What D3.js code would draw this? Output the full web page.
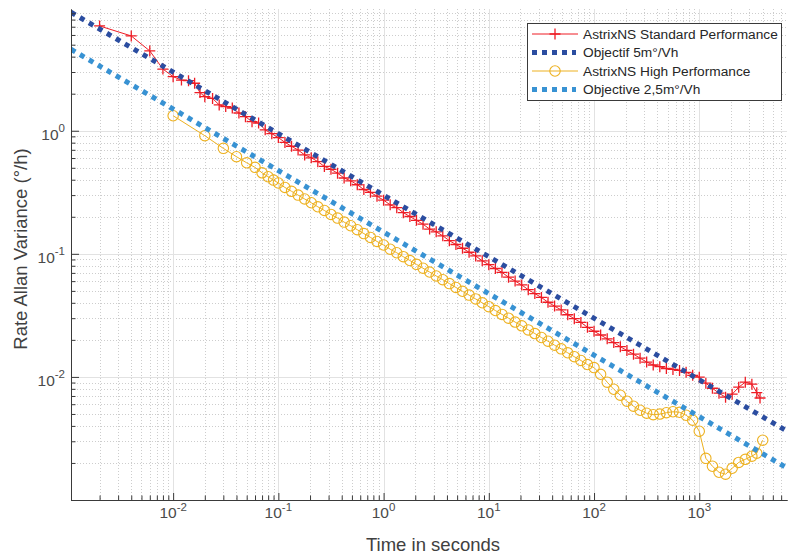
<!DOCTYPE html>
<html>
<head>
<meta charset="utf-8">
<script src="https://cdn.jsdelivr.net/npm/d3@7"></script>
<style>
body { margin: 0; background: #fff; }
text { font-family: "Liberation Sans", Arial, sans-serif; }
</style>
</head>
<body>
<script>
const svgWidth = 788;
const svgHeight = 556;
const plotLeft = 71, plotRight = 787, plotTop = 9, plotBottom = 500;

// axis limits (seconds, deg/h)
const xDomain = [0.00107, 6820];
const yDomain = [0.001, 9.75];
const xTickExp = [-2, -1, 0, 1, 2, 3];
const yTickExp = [-2, -1, 0];

const seriesNames = ['AstrixNS Standard Performance', 'Objectif 5m°/Vh',
                     'AstrixNS High Performance', 'Objective 2,5m°/Vh'];

// AstrixNS Standard Performance
const stdTau = [0.002, 0.004, 0.006, 0.008, 0.010, 0.012, 0.014, 0.016, 0.018, 0.020,
  0.0237, 0.0274, 0.0316, 0.0365, 0.0422, 0.0487, 0.0562, 0.0649, 0.0750, 0.0866,
  0.100, 0.1155, 0.1334, 0.154, 0.1778, 0.2054, 0.2371, 0.2738, 0.3162, 0.3652, 0.4217, 0.487, 0.5623, 0.6494, 0.7499, 0.866,
  1, 1.155, 1.334, 1.54, 1.778, 2.054, 2.371, 2.738, 3.162, 3.652, 4.217, 4.87, 5.623, 6.494, 7.499, 8.66,
  10, 11.55, 13.34, 15.4, 17.78, 20.54, 23.71, 27.38, 31.62, 36.52, 42.17, 48.7, 56.23, 64.94, 74.99, 86.6,
  100, 115.5, 133.4, 154, 177.8, 205.4, 237.1, 273.8, 316.2, 365.2, 421.7, 487, 562.3, 649.4, 749.9, 866,
  1000, 1155, 1334, 1540, 1778, 2054, 2371, 2738, 3162, 3520, 3780];
const stdRate = [7.1, 5.89, 4.45, 3.17, 2.75, 2.58, 2.55, 2.43, 2.04, 1.89,
  1.83, 1.62, 1.57, 1.53, 1.393, 1.30, 1.184, 1.155, 1.017, 0.946,
  0.880, 0.804, 0.748, 0.697, 0.636, 0.603, 0.561, 0.513, 0.486, 0.452, 0.413, 0.392, 0.364, 0.333, 0.316, 0.294,
  0.273, 0.250, 0.237, 0.216, 0.201, 0.187, 0.174, 0.159, 0.151, 0.140, 0.128, 0.119, 0.111, 0.103, 0.0961, 0.0877,
  0.0817, 0.0760, 0.0707, 0.0646, 0.0601, 0.0559, 0.0511, 0.0475, 0.0442, 0.0404, 0.0376, 0.0350, 0.0320, 0.0297, 0.0277, 0.0253,
  0.0235, 0.0219, 0.0204, 0.0190, 0.0176, 0.0164, 0.0153, 0.0142, 0.0132, 0.0125, 0.0121, 0.0117, 0.0115, 0.0113, 0.0109, 0.0103,
  0.00995, 0.00889, 0.00809, 0.00737, 0.00684, 0.00724, 0.00825, 0.00906, 0.00873, 0.00745, 0.00674];

// AstrixNS High Performance
const highTau = [0.01, 0.02, 0.03, 0.04, 0.05, 0.06, 0.07, 0.08, 0.09, 0.10,
  0.1155, 0.1334, 0.154, 0.1778, 0.2054, 0.2371, 0.2738, 0.3162, 0.3652, 0.4217, 0.487, 0.5623, 0.6494, 0.7499, 0.866,
  1, 1.155, 1.334, 1.54, 1.778, 2.054, 2.371, 2.738, 3.162, 3.652, 4.217, 4.87, 5.623, 6.494, 7.499, 8.66,
  10, 11.55, 13.34, 15.4, 17.78, 20.54, 23.71, 27.38, 31.62, 36.52, 42.17, 48.7, 56.23, 64.94, 74.99, 86.6,
  100, 115.5, 133.4, 154, 177.8, 205.4, 237.1, 273.8, 316.2, 365.2, 421.7, 487, 562.3, 649.4, 749.9, 866,
  1000, 1155, 1334, 1540, 1778, 2054, 2371, 2738, 3162, 3520, 4010];
const highRate = [1.324, 0.911, 0.719, 0.615, 0.549, 0.504, 0.455, 0.423, 0.397, 0.376,
  0.346, 0.322, 0.300, 0.279, 0.260, 0.241, 0.225, 0.209, 0.195, 0.181, 0.169, 0.157, 0.146, 0.136, 0.126,
  0.118, 0.109, 0.102, 0.0948, 0.0882, 0.0821, 0.0764, 0.0711, 0.0661, 0.0616, 0.0573, 0.0533, 0.0496, 0.0462, 0.0430, 0.0400,
  0.0372, 0.0346, 0.0322, 0.0300, 0.0279, 0.0260, 0.0241, 0.0225, 0.0209, 0.0195, 0.0181, 0.0169, 0.0157, 0.0146, 0.0136, 0.0126,
  0.0119, 0.0105, 0.00906, 0.00794, 0.00710, 0.00634, 0.00578, 0.00536, 0.00507, 0.00493, 0.00499, 0.00512, 0.00521, 0.00516, 0.00488, 0.00445,
  0.00362, 0.00218, 0.00188, 0.00168, 0.00162, 0.00181, 0.00202, 0.00214, 0.00227, 0.00240, 0.00306];

// objective lines (end points)
const objTau = [0.00107, 6820];
const obj5 = [9.17, 0.00363];
const obj25 = [4.59, 0.00182];

const colors = ['#ee1c25', '#2b4da0', '#edb120', '#3892d3'];

const x = d3.scaleLog().domain(xDomain).range([plotLeft, plotRight]);
const y = d3.scaleLog().domain(yDomain).range([plotBottom, plotTop]);

function isDecade(v) {
    const l = Math.log10(v);
    return Math.abs(l - Math.round(l)) < 1e-6;
}

// 画布
function constructSvg() {
    return d3.select('body')
        .append('svg')
        .attr('width', svgWidth)
        .attr('height', svgHeight);
}

// 网格
function drawGrid(svg) {
    const g = svg.append('g');
    const xt = x.ticks(), yt = y.ticks();
    const px = v => Math.round(x(v)) + 0.5;
    const py = v => Math.round(y(v)) + 0.5;

    g.selectAll('.xminor').data(xt.filter(v => !isDecade(v))).enter()
        .append('line')
        .attr('x1', px).attr('x2', px)
        .attr('y1', plotTop).attr('y2', plotBottom)
        .attr('stroke', '#cdcdcd').attr('stroke-dasharray', '1,2');
    g.selectAll('.yminor').data(yt.filter(v => !isDecade(v))).enter()
        .append('line')
        .attr('y1', py).attr('y2', py)
        .attr('x1', plotLeft).attr('x2', plotRight)
        .attr('stroke', '#cdcdcd').attr('stroke-dasharray', '1,2');
    g.selectAll('.xmajor').data(xt.filter(isDecade)).enter()
        .append('line')
        .attr('x1', px).attr('x2', px)
        .attr('y1', plotTop).attr('y2', plotBottom)
        .attr('stroke', '#e2e2e2');
    g.selectAll('.ymajor').data(yt.filter(isDecade)).enter()
        .append('line')
        .attr('y1', py).attr('y2', py)
        .attr('x1', plotLeft).attr('x2', plotRight)
        .attr('stroke', '#e2e2e2');
}

// 坐标轴, 刻度朝内
function drawAxes(svg) {
    const xt = x.ticks(), yt = y.ticks();
    const axisColor = '#3a3a3a';

    svg.append('g')
        .attr('transform', 'translate(0,' + plotBottom + ')')
        .attr('color', axisColor)
        .call(d3.axisBottom(x).tickValues(xt.filter(v => !isDecade(v)))
            .tickSizeInner(-4.5).tickSizeOuter(0).tickFormat(''));
    svg.append('g')
        .attr('transform', 'translate(0,' + plotBottom + ')')
        .attr('color', axisColor)
        .call(d3.axisBottom(x).tickValues(xt.filter(isDecade))
            .tickSizeInner(-7).tickSizeOuter(0).tickFormat(''));

    svg.append('g')
        .attr('transform', 'translate(' + plotLeft + ',0)')
        .attr('color', axisColor)
        .call(d3.axisLeft(y).tickValues(yt.filter(v => !isDecade(v)))
            .tickSizeInner(-4.5).tickSizeOuter(0).tickFormat(''));
    svg.append('g')
        .attr('transform', 'translate(' + plotLeft + ',0)')
        .attr('color', axisColor)
        .call(d3.axisLeft(y).tickValues(yt.filter(isDecade))
            .tickSizeInner(-8).tickSizeOuter(0).tickFormat(''));

    // 10^n 标签
    const xl = svg.append('g').selectAll('text')
        .data(xTickExp).enter()
        .append('text')
        .attr('x', d => x(Math.pow(10, d)))
        .attr('y', 518)
        .attr('text-anchor', 'middle')
        .attr('fill', '#4a4a4a')
        .attr('font-size', 15.5);
    xl.append('tspan').text('10');
    xl.append('tspan').attr('dy', -7.5).attr('font-size', 11.5).text(d => d);

    const yl = svg.append('g').selectAll('text')
        .data(yTickExp).enter()
        .append('text')
        .attr('x', 65)
        .attr('y', d => y(Math.pow(10, d)) + 9)
        .attr('text-anchor', 'end')
        .attr('fill', '#4a4a4a')
        .attr('font-size', 15.5);
    yl.append('tspan').text('10');
    yl.append('tspan').attr('dy', -7.5).attr('font-size', 11.5).text(d => d);

    svg.append('text')
        .attr('x', 433).attr('y', 551)
        .attr('text-anchor', 'middle')
        .attr('fill', '#404040')
        .attr('font-size', 18.5)
        .text('Time in seconds');
    svg.append('text')
        .attr('transform', 'translate(27,249) rotate(-90)')
        .attr('text-anchor', 'middle')
        .attr('fill', '#404040')
        .attr('font-size', 18.5)
        .text('Rate Allan Variance (°/h)');
}

const lineGen = d3.line().x(d => x(d[0])).y(d => y(d[1]));

function drawPlus(g, pts, color) {
    g.selectAll('.plus').data(pts).enter()
        .append('path')
        .attr('d', d => {
            const cx = x(d[0]), cy = y(d[1]);
            return 'M' + (cx - 5.5) + ',' + cy + 'H' + (cx + 5.5) + 'M' + cx + ',' + (cy - 5.5) + 'V' + (cy + 5.5);
        })
        .attr('stroke', color)
        .attr('stroke-width', 1.3)
        .attr('fill', 'none');
}

function drawCircles(g, pts, color) {
    g.selectAll('circle').data(pts).enter()
        .append('circle')
        .attr('cx', d => x(d[0]))
        .attr('cy', d => y(d[1]))
        .attr('r', 5.2)
        .attr('stroke', color)
        .attr('stroke-width', 1.1)
        .attr('fill', 'none');
}

function drawSeries(svg) {
    svg.append('clipPath').attr('id', 'plotclip')
        .append('rect')
        .attr('x', plotLeft).attr('y', plotTop)
        .attr('width', plotRight - plotLeft).attr('height', plotBottom - plotTop);

    const g = svg.append('g').attr('clip-path', 'url(#plotclip)');

    const stdPts = stdTau.map((t, i) => [t, stdRate[i]]);
    const highPts = highTau.map((t, i) => [t, highRate[i]]);
    const obj5Pts = objTau.map((t, i) => [t, obj5[i]]);
    const obj25Pts = objTau.map((t, i) => [t, obj25[i]]);

    // 绘制顺序同图例
    const gs = g.append('g');
    gs.append('path').datum(stdPts).attr('d', lineGen)
        .attr('fill', 'none').attr('stroke', colors[0]).attr('stroke-width', 1);
    drawPlus(gs, stdPts, colors[0]);

    g.append('path').datum(obj5Pts).attr('d', lineGen)
        .attr('fill', 'none').attr('stroke', colors[1])
        .attr('stroke-width', 5).attr('stroke-dasharray', '5,5.4');

    const gh = g.append('g');
    gh.append('path').datum(highPts).attr('d', lineGen)
        .attr('fill', 'none').attr('stroke', colors[2]).attr('stroke-width', 1);
    drawCircles(gh, highPts, colors[2]);

    g.append('path').datum(obj25Pts).attr('d', lineGen)
        .attr('fill', 'none').attr('stroke', colors[3])
        .attr('stroke-width', 5).attr('stroke-dasharray', '5,5.4');
}

// 图例
function drawLegend(svg) {
    const lx = 527, ly = 23, lw = 254, lh = 77;
    const rows = [34, 52.5, 71, 89.5];
    const g = svg.append('g');
    g.append('rect')
        .attr('x', lx + 0.5).attr('y', ly + 0.5)
        .attr('width', lw).attr('height', lh)
        .attr('fill', '#fff').attr('stroke', '#3a3a3a').attr('stroke-width', 1);

    const item = g.selectAll('.item').data(seriesNames).enter()
        .append('g')
        .attr('transform', (d, i) => 'translate(0,' + rows[i] + ')');

    item.append('line')
        .attr('x1', 532)
        .attr('x2', (d, i) => i % 2 ? 576 : 578)
        .attr('y1', 0).attr('y2', 0)
        .attr('stroke', (d, i) => colors[i])
        .attr('stroke-width', (d, i) => i % 2 ? 5 : 1)
        .attr('stroke-dasharray', (d, i) => i % 2 ? '5,5' : null);

    item.filter((d, i) => i === 0).append('path')
        .attr('d', 'M549.5,0H560.5M555,-5.5V5.5')
        .attr('stroke', colors[0]).attr('stroke-width', 1.3);
    item.filter((d, i) => i === 2).append('circle')
        .attr('cx', 555).attr('cy', 0).attr('r', 5.2)
        .attr('fill', 'none').attr('stroke', colors[2]).attr('stroke-width', 1.1);

    item.append('text')
        .attr('x', 583).attr('y', 0)
        .attr('dy', '0.35em')
        .attr('font-size', 13.7)
        .attr('fill', '#262626')
        .text(d => d);
}

const svg = constructSvg();
drawGrid(svg);
drawSeries(svg);
drawAxes(svg);
drawLegend(svg);
</script>
</body>
</html>
